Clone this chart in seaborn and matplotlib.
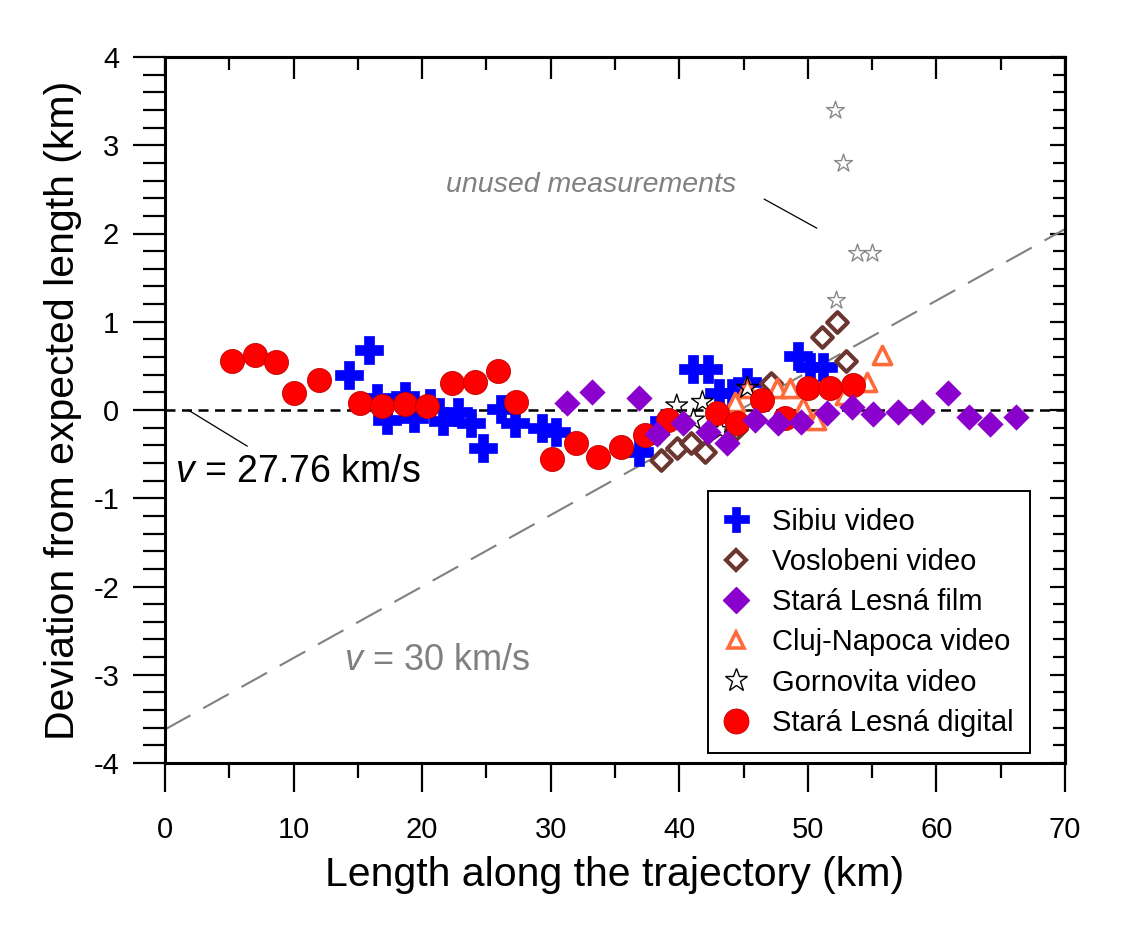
import numpy as np
import pandas as pd
import matplotlib
matplotlib.use("Agg")
import matplotlib.pyplot as plt
import seaborn as sns
from matplotlib.ticker import MultipleLocator
from matplotlib.lines import Line2D

# ---------------- data ----------------
sibiu_x = [14.3, 15.9, 16.5, 17.3, 18.7, 19.4, 20.6, 21.6, 22.8, 23.8, 24.7, 26.1, 27.2,
           29.3, 30.4, 36.9, 38.1, 41.1, 42.2, 43.1, 44.1, 45.3, 49.2, 50.2, 51.2]
sibiu_y = [0.40, 0.68, 0.14, -0.11, 0.16, -0.09, 0.08, -0.12, -0.02, -0.15, -0.43, 0.01, -0.15,
           -0.20, -0.25, -0.48, -0.23, 0.46, 0.46, 0.19, 0.19, 0.32, 0.61, 0.49, 0.49]

vosl_x = [38.6, 39.8, 40.9, 42.0, 44.4, 47.1, 51.1, 52.3, 53.0]
vosl_y = [-0.57, -0.43, -0.37, -0.48, -0.21, 0.31, 0.83, 1.00, 0.56]

film_x = [31.3, 33.2, 36.9, 38.3, 40.3, 42.2, 43.7, 45.9, 47.7, 49.5, 51.5, 53.4, 55.1,
          57.0, 58.9, 60.9, 62.5, 64.2, 66.2]
film_y = [0.08, 0.20, 0.14, -0.27, -0.15, -0.25, -0.37, -0.11, -0.15, -0.14, -0.03, 0.03, -0.05,
          -0.02, -0.02, 0.19, -0.08, -0.16, -0.08]

cluj_x = [44.3, 45.3, 47.6, 48.6, 49.6, 50.6, 52.9, 54.6, 55.8]
cluj_y = [0.09, 0.25, 0.25, 0.25, 0.03, -0.11, 0.17, 0.32, 0.62]

gorn_x = [39.8, 41.8, 41.1, 43.2, 45.3]
gorn_y = [0.05, 0.09, -0.11, -0.23, 0.25]

unused_x = [52.1, 52.7, 53.8, 55.0, 52.2]
unused_y = [3.40, 2.80, 1.78, 1.78, 1.25]

digital_x = [5.2, 7.0, 8.6, 10.0, 12.0, 15.2, 16.9, 18.7, 20.4, 22.3, 24.1, 25.9, 27.3,
             30.1, 32.0, 33.7, 35.5, 37.3, 39.1, 42.9, 44.5, 46.4, 48.2, 50.0, 51.7, 53.5]
digital_y = [0.55, 0.62, 0.54, 0.19, 0.34, 0.08, 0.05, 0.07, 0.05, 0.31, 0.32, 0.44, 0.09,
             -0.56, -0.37, -0.53, -0.42, -0.28, -0.11, -0.03, -0.15, 0.11, -0.09, 0.25, 0.25, 0.28]

v30_x = [0, 70]
v30_y = [-3.62, 2.05]

labels = ["Sibiu video", "Voslobeni video", "Stará Lesná film",
          "Cluj-Napoca video", "Gornovita video", "Stará Lesná digital"]

# ---------------- style ----------------
sns.set_style("white")
plt.rcParams["font.family"] = ["Liberation Sans", "DejaVu Sans"]
plt.rcParams["mathtext.fontset"] = "custom"
plt.rcParams["mathtext.it"] = "Liberation Sans:italic"
plt.rcParams["mathtext.rm"] = "Liberation Sans"
plt.rcParams["axes.unicode_minus"] = False
plt.rcParams["text.color"] = "black"
plt.rcParams["axes.labelcolor"] = "black"
plt.rcParams["xtick.color"] = "black"
plt.rcParams["ytick.color"] = "black"

fig = plt.figure(figsize=(11.22, 9.32), dpi=100)
ax = fig.add_axes([165 / 1122, 1 - 763 / 932, 900 / 1122, 706 / 932])

# lines
ax.plot(v30_x, v30_y, color="#808080", lw=1.5, dashes=(14, 7), zorder=1)
ax.plot([0, 70], [0, 0], color="black", lw=1.8, dashes=(4, 2.6), zorder=1)

C_BLUE = "#0000FF"
C_BROWN = "#6B3530"
C_PURPLE = "#8A00CC"
C_ORANGE = "#FF6A3A"
C_RED = "#FF0000"

df = lambda x, y: pd.DataFrame({"x": x, "y": y})

sns.scatterplot(data=df(unused_x, unused_y), x="x", y="y", ax=ax, marker="*",
                s=180, facecolor="white", edgecolor="#888888", linewidth=1.0, zorder=2)
sns.scatterplot(data=df(sibiu_x, sibiu_y), x="x", y="y", ax=ax, marker="P",
                s=380, color=C_BLUE, edgecolor=C_BLUE, linewidth=0.5, zorder=3)
sns.scatterplot(data=df(vosl_x, vosl_y), x="x", y="y", ax=ax, marker="D",
                s=110, facecolor="white", edgecolor=C_BROWN, linewidth=3.0, zorder=3)
sns.scatterplot(data=df(cluj_x, cluj_y), x="x", y="y", ax=ax, marker="^",
                s=170, facecolor="white", edgecolor=C_ORANGE, linewidth=2.6, zorder=3)
sns.scatterplot(data=df(gorn_x, gorn_y), x="x", y="y", ax=ax, marker="*",
                s=270, facecolor="none", edgecolor="black", linewidth=1.0, zorder=3)
sns.scatterplot(data=df(digital_x, digital_y), x="x", y="y", ax=ax, marker="o",
                s=300, color=C_RED, edgecolor="#C00000", linewidth=0.6, zorder=4)
sns.scatterplot(data=df(film_x, film_y), x="x", y="y", ax=ax, marker="D",
                s=170, color=C_PURPLE, edgecolor=C_PURPLE, linewidth=0.3, zorder=5)

ax.set_xlim(0, 70)
ax.set_ylim(-4, 4)

# axes styling
for sp in ax.spines.values():
    sp.set_linewidth(2.2)
    sp.set_color("black")

ax.xaxis.set_major_locator(MultipleLocator(10))
ax.xaxis.set_minor_locator(MultipleLocator(5))
ax.yaxis.set_major_locator(MultipleLocator(1))
ax.yaxis.set_minor_locator(MultipleLocator(0.2))
ax.tick_params(axis="x", which="major", direction="out", length=21, width=1.6,
               labelsize=21, pad=17, bottom=True, top=False)
ax.tick_params(axis="x", which="minor", direction="out", length=11, width=1.6,
               bottom=True, top=False)
ax.tick_params(axis="y", which="major", direction="out", length=23, width=1.6,
               labelsize=21, pad=10, left=True, right=False)
ax.tick_params(axis="y", which="minor", direction="out", length=16, width=1.6,
               left=True, right=False)

top = ax.secondary_xaxis("top")
top.xaxis.set_major_locator(MultipleLocator(10))
top.xaxis.set_minor_locator(MultipleLocator(5))
top.tick_params(which="major", direction="in", length=16, width=1.6, labeltop=False)
top.tick_params(which="minor", direction="in", length=9, width=1.6)
top.spines["top"].set_linewidth(2.2)

right = ax.secondary_yaxis("right")
right.yaxis.set_major_locator(MultipleLocator(1))
right.yaxis.set_minor_locator(MultipleLocator(0.2))
right.tick_params(which="major", direction="in", length=11, width=1.6, labelright=False)
right.tick_params(which="minor", direction="in", length=9, width=1.6)
right.spines["right"].set_linewidth(2.2)

ax.set_xlabel("Length along the trajectory (km)", fontsize=29.5, labelpad=9)
ax.set_ylabel("Deviation from expected length (km)", fontsize=29.5, labelpad=8)

# annotations
ax.text(0.75, -0.70, r"$v$ = 27.76 km/s", fontsize=27, color="black", ha="left", va="center")
ax.plot([1.8, 6.4], [0.0, -0.41], color="black", lw=0.9)
ax.text(13.9, -2.84, r"$v$ = 30 km/s", fontsize=26, color="#808080", ha="left", va="center")
ax.text(33.1, 2.55, "unused measurements", fontsize=20.5, color="#808080",
        style="italic", ha="center", va="center")
ax.plot([46.6, 50.7], [2.39, 2.06], color="black", lw=0.9)

# legend
handles = [
    Line2D([], [], ls="none", marker="P", ms=18, color=C_BLUE, mec=C_BLUE, mew=0.5),
    Line2D([], [], ls="none", marker="D", ms=10.5, mfc="white", mec=C_BROWN, mew=3.0),
    Line2D([], [], ls="none", marker="D", ms=13, color=C_PURPLE, mec=C_PURPLE),
    Line2D([], [], ls="none", marker="^", ms=12, mfc="white", mec=C_ORANGE, mew=2.6),
    Line2D([], [], ls="none", marker="*", ms=17, mfc="none", mec="black", mew=1.0),
    Line2D([], [], ls="none", marker="o", ms=18, color=C_RED, mec="#C00000", mew=0.6),
]
leg = ax.legend(handles, labels, loc="lower right", bbox_to_anchor=(0.961, 0.014),
                fontsize=21, frameon=True, fancybox=False, edgecolor="black",
                framealpha=1, labelspacing=0.42, handletextpad=0.84, borderpad=0.56,
                handlelength=0.8, borderaxespad=0)
leg.get_frame().set_linewidth(1.4)
leg.set_zorder(10)

fig.savefig("out.png", dpi=100)
